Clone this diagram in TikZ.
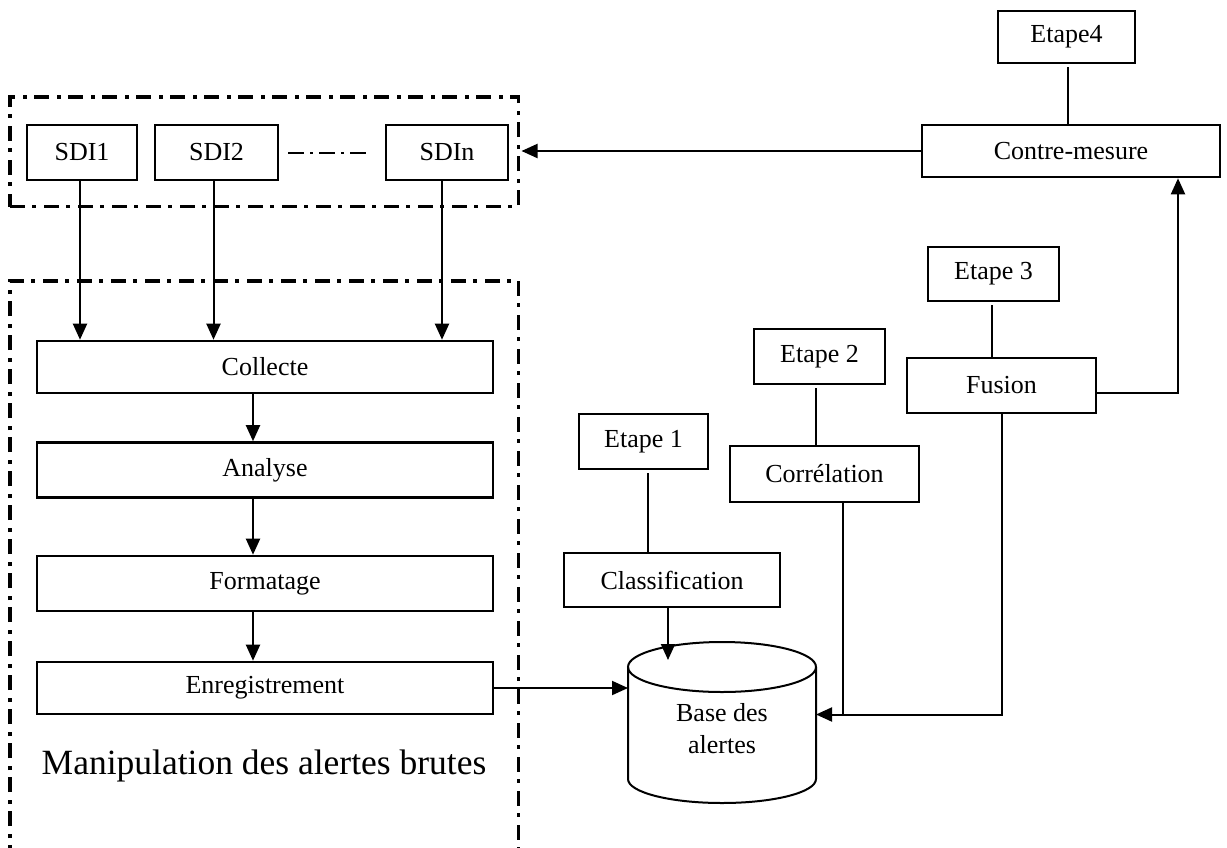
\documentclass[tikz,border=0pt]{standalone}
\usepackage{fontspec}
\setmainfont{Liberation Serif}
\usetikzlibrary{arrows.meta}
\begin{document}
\begin{tikzpicture}[x=1pt,y=-1pt,
  box/.style={draw, line width=2.6pt, inner sep=0pt, font=\fontsize{26}{32}\selectfont},
  link/.style={line width=2pt},
  arr/.style={link, -{Triangle[length=16pt,width=14pt]}},
  groupframe/.style={line width=3.6pt, dash pattern=on 15pt off 7pt on 4pt off 8pt},
]
\useasboundingbox (0,0) rectangle (1227,847);

% group of intrusion detection systems
\node[draw, groupframe, inner sep=0pt, minimum width=508.6pt, minimum height=109.5pt] (sdigroup) at (264.3,151.75) {};
\node[box, minimum width=110pt, minimum height=55pt] (sdi1) at (82,152.5) {SDI1};
\node[box, minimum width=123pt, minimum height=55pt] (sdi2) at (216.5,152.5) {SDI2};
\node[box, minimum width=122pt, minimum height=55pt] (sdin) at (447,152.5) {SDIn};
\draw[line width=2pt, dash pattern=on 16pt off 6pt on 3pt off 6pt, shorten <=9pt, shorten >=16pt] (sdi2.east) -- (sdin.west);

% raw alert handling
\draw[groupframe] (10,860) -- (10,281) -- (518.6,281) -- (518.6,860);
\node[box, minimum width=456pt, minimum height=52pt] (collecte) at (265,367) {Collecte};
\node[box, minimum width=456pt, minimum height=55pt] (analyse) at (265,470) {Analyse};
\node[box, minimum width=456pt, minimum height=55pt] (formatage) at (265,583.5) {Formatage};
\node[box, minimum width=456pt, minimum height=52pt] (enreg) at (265,688) {Enregistrement};
\node[font=\fontsize{35.5}{40}\selectfont] (manip) at (264,766) {Manipulation des alertes brutes};

\coordinate (a1) at (80,0);
\coordinate (a2) at (213.5,0);
\coordinate (an) at (442,0);
\coordinate (ax) at (253,0);
\draw[arr] (sdi1.south -| a1) -- (collecte.north -| a1);
\draw[arr] (sdi2.south -| a2) -- (collecte.north -| a2);
\draw[arr] (sdin.south -| an) -- (collecte.north -| an);
\draw[arr] (collecte.south -| ax) -- (analyse.north -| ax);
\draw[arr] (analyse.south -| ax) -- (formatage.north -| ax);
\draw[arr] (formatage.south -| ax) -- (enreg.north -| ax);

% alert database
\draw[line width=2pt] (722,667) ellipse [x radius=94pt, y radius=25pt];
\draw[line width=2pt] (628,667) -- (628,779) .. controls (628,792.3) and (670.1,803) .. (722,803)
  .. controls (773.9,803) and (816,792.3) .. (816,779) -- (816,667);
\node[font=\fontsize{26}{32}\selectfont, align=center] (base) at (722,729) {Base des\\alertes};
\coordinate (baseW) at (628,688);
\coordinate (baseE) at (816,714.5);
\coordinate (baseT) at (668,660);

% processing stages
\node[box, minimum width=129pt, minimum height=55pt] (e1) at (643.5,441.5) {Etape 1};
\node[box, minimum width=216pt, minimum height=54pt] (classif) at (672,580) {Classification};
\node[box, minimum width=131pt, minimum height=55pt] (e2) at (819.5,356.5) {Etape 2};
\node[box, minimum width=189pt, minimum height=56pt] (correl) at (824.5,474) {Corrélation};
\node[box, minimum width=131pt, minimum height=54pt] (e3) at (993.5,274) {Etape 3};
\node[box, minimum width=189pt, minimum height=55pt] (fusion) at (1001.5,385.5) {Fusion};
\node[box, minimum width=137pt, minimum height=52pt] (e4) at (1066.5,37) {Etape4};
\node[box, minimum width=298pt, minimum height=52pt] (contre) at (1071,151) {Contre-mesure};

% stage labels hang above their processing boxes
\coordinate (s1) at (648,0);
\coordinate (s2) at (816,0);
\coordinate (s3) at (992,0);
\coordinate (s4) at (1068,0);
\draw[link, shorten <=3pt] (e1.south -| s1) -- (classif.north -| s1);
\draw[link, shorten <=3pt] (e2.south -| s2) -- (correl.north -| s2);
\draw[link, shorten <=3pt] (e3.south -| s3) -- (fusion.north -| s3);
\draw[link, shorten <=3pt] (e4.south -| s4) -- (contre.north -| s4);

\coordinate (cx) at (843,0);
\coordinate (fx) at (1178,0);
\coordinate (fy) at (0,393);
\coordinate (gx) at (521.5,0);
\draw[arr] (enreg.east) -- (enreg.east -| baseW);
\draw[arr] (classif.south -| baseT) -- (baseT);
\draw[link] (correl.south -| cx) -- (cx |- baseE);
\draw[arr] (fusion.south) |- (baseE);
\draw[arr] (fusion.east |- fy) -| (contre.south -| fx);
\draw[arr] (contre.west) -- (contre.west -| gx);
\end{tikzpicture}
\end{document}
